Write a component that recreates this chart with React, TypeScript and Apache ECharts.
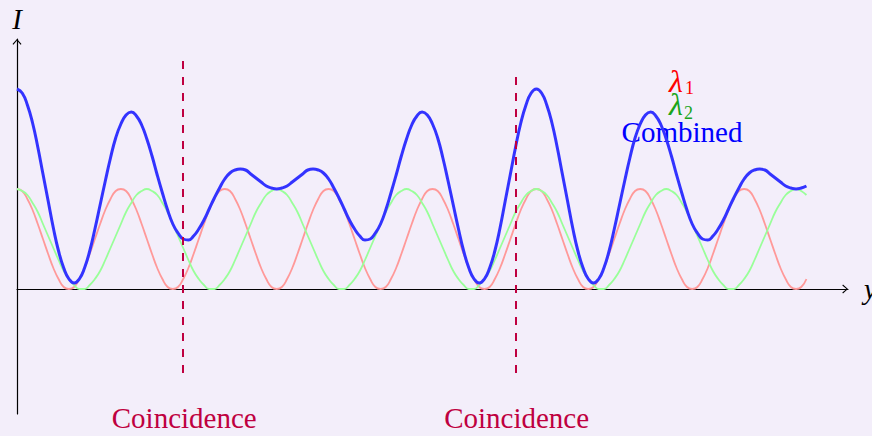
import React, { useEffect, useRef } from "react";
import * as echarts from "echarts";

// Sample spacing along the y axis for every intensity series
const X_STEP = 0.05;

// Intensity of wavelength λ1
const RED = [
  1.00, 0.98, 0.90, 0.79, 0.65, 0.50, 0.35, 0.21, 0.10, 0.02, 0.00, 0.02, 0.10, 0.21, 0.35, 0.50, 0.65, 0.79, 0.90, 0.98,
  1.00, 0.98, 0.90, 0.79, 0.65, 0.50, 0.35, 0.21, 0.10, 0.02, 0.00, 0.02, 0.10, 0.21, 0.35, 0.50, 0.65, 0.79, 0.90, 0.98,
  1.00, 0.98, 0.90, 0.79, 0.65, 0.50, 0.35, 0.21, 0.10, 0.02, 0.00, 0.02, 0.10, 0.21, 0.35, 0.50, 0.65, 0.79, 0.90, 0.98,
  1.00, 0.98, 0.90, 0.79, 0.65, 0.50, 0.35, 0.21, 0.10, 0.02, 0.00, 0.02, 0.10, 0.21, 0.35, 0.50, 0.65, 0.79, 0.90, 0.98,
  1.00, 0.98, 0.90, 0.79, 0.65, 0.50, 0.35, 0.21, 0.10, 0.02, 0.00, 0.02, 0.10, 0.21, 0.35, 0.50, 0.65, 0.79, 0.90, 0.98,
  1.00, 0.98, 0.90, 0.79, 0.65, 0.50, 0.35, 0.21, 0.10, 0.02, 0.00, 0.02, 0.10, 0.21, 0.35, 0.50, 0.65, 0.79, 0.90, 0.98,
  1.00, 0.98, 0.90, 0.79, 0.65, 0.50, 0.35, 0.21, 0.10, 0.02, 0.00, 0.02, 0.10, 0.21, 0.35, 0.50, 0.65, 0.79, 0.90, 0.98,
  1.00, 0.98, 0.90, 0.79, 0.65, 0.50, 0.35, 0.21, 0.10, 0.02, 0.00, 0.02, 0.10,
];

// Intensity of wavelength λ2
const GREEN = [
  1.00, 0.98, 0.94, 0.86, 0.77, 0.65, 0.53, 0.41, 0.29, 0.18, 0.10, 0.04, 0.00, 0.00, 0.04, 0.10, 0.18, 0.29, 0.41, 0.53, 0.65, 0.77, 0.86, 0.94, 0.98,
  1.00, 0.98, 0.94, 0.86, 0.77, 0.65, 0.53, 0.41, 0.29, 0.18, 0.10, 0.04, 0.00, 0.00, 0.04, 0.10, 0.18, 0.29, 0.41, 0.53, 0.65, 0.77, 0.86, 0.94, 0.98,
  1.00, 0.98, 0.94, 0.86, 0.77, 0.65, 0.53, 0.41, 0.29, 0.18, 0.10, 0.04, 0.00, 0.00, 0.04, 0.10, 0.18, 0.29, 0.41, 0.53, 0.65, 0.77, 0.86, 0.94, 0.98,
  1.00, 0.98, 0.94, 0.86, 0.77, 0.65, 0.53, 0.41, 0.29, 0.18, 0.10, 0.04, 0.00, 0.00, 0.04, 0.10, 0.18, 0.29, 0.41, 0.53, 0.65, 0.77, 0.86, 0.94, 0.98,
  1.00, 0.98, 0.94, 0.86, 0.77, 0.65, 0.53, 0.41, 0.29, 0.18, 0.10, 0.04, 0.00, 0.00, 0.04, 0.10, 0.18, 0.29, 0.41, 0.53, 0.65, 0.77, 0.86, 0.94, 0.98,
  1.00, 0.98, 0.94, 0.86, 0.77, 0.65, 0.53, 0.41, 0.29, 0.18, 0.10, 0.04, 0.00, 0.00, 0.04, 0.10, 0.18, 0.29, 0.41, 0.53, 0.65, 0.77, 0.86, 0.94, 0.98,
  1.00, 0.98, 0.94,
];

// Combined intensity of both wavelengths
const COMBINED = [
  2.00, 1.96, 1.84, 1.66, 1.42, 1.15, 0.88, 0.61, 0.38, 0.21, 0.10, 0.06, 0.10, 0.21, 0.38, 0.60, 0.84, 1.08, 1.31, 1.51, 1.65, 1.74, 1.77, 1.73, 1.64,
  1.50, 1.33, 1.14, 0.96, 0.79, 0.65, 0.56, 0.50, 0.49, 0.53, 0.60, 0.69, 0.80, 0.91, 1.01, 1.10, 1.16, 1.19, 1.20, 1.19, 1.15, 1.11, 1.07, 1.03, 1.01,
  1.00, 1.01, 1.03, 1.07, 1.11, 1.15, 1.19, 1.20, 1.19, 1.16, 1.10, 1.01, 0.91, 0.80, 0.69, 0.60, 0.53, 0.49, 0.50, 0.56, 0.65, 0.79, 0.96, 1.14, 1.33,
  1.50, 1.64, 1.73, 1.77, 1.74, 1.65, 1.51, 1.31, 1.08, 0.84, 0.60, 0.38, 0.21, 0.10, 0.06, 0.10, 0.21, 0.38, 0.61, 0.88, 1.15, 1.42, 1.66, 1.84, 1.96,
  2.00, 1.96, 1.84, 1.66, 1.42, 1.15, 0.88, 0.61, 0.38, 0.21, 0.10, 0.06, 0.10, 0.21, 0.38, 0.60, 0.84, 1.08, 1.31, 1.51, 1.65, 1.74, 1.77, 1.73, 1.64,
  1.50, 1.33, 1.14, 0.96, 0.79, 0.65, 0.56, 0.50, 0.49, 0.53, 0.60, 0.69, 0.80, 0.91, 1.01, 1.10, 1.16, 1.19, 1.20, 1.19, 1.15, 1.11, 1.07, 1.03, 1.01,
  1.00, 1.01, 1.03,
];

// Coincidence markers: position and vertical extent of each dashed line
const DASH_X = [1.6, 4.8];
const DASH_BOTTOM = [-0.84, -0.84];
const DASH_TOP = [2.29, 2.14];
const DASH_LABEL = "Coincidence";
const DASH_LABEL_Y = -1.29;

const AXIS_X_NAME = "y";
const AXIS_Y_NAME = "I";

const BG = "#f3eefa";
const SERIF = '"Liberation Serif", "DejaVu Serif", serif';
const PURPLE = "#bf0040";

// Open TikZ-style arrow tip, pointing up in its own frame
const ARROW = "path://M4.5,0 L9,5 L8.1,5.7 L4.5,1.5 L0.9,5.7 L0,5 Z";

const toPoints = (values: number[]) => values.map((v, i) => [i * X_STEP, v]);

const axisCommon = {
  type: "value" as const,
  axisLine: {
    show: true,
    onZero: true,
    symbol: ["none", ARROW],
    symbolSize: [9, 5.7],
    symbolOffset: [0, -2.85],
    lineStyle: { color: "#000", width: 1.2 },
  },
  axisTick: { show: false },
  axisLabel: { show: false },
  splitLine: { show: false },
  nameLocation: "end" as const,
  nameTextStyle: {
    fontFamily: SERIF,
    fontStyle: "italic",
    fontSize: 29,
    color: "#000",
  },
};

export default function App() {
  const ref = useRef<HTMLDivElement>(null);

  useEffect(() => {
    if (!ref.current) return;
    const chart = echarts.init(ref.current, null, { renderer: "svg" });

    chart.setOption({
      animation: false,
      backgroundColor: BG,
      grid: {
        left: 17,
        right: 24,
        top: 39,
        bottom: 22,
        containLabel: false,
        outerBoundsMode: "none",
      },
      xAxis: { ...axisCommon, min: 0, max: 8, name: AXIS_X_NAME, nameGap: 16 },
      yAxis: { ...axisCommon, min: -1.25, max: 2.5, name: AXIS_Y_NAME, nameGap: 6 },
      series: [
        {
          name: "λ1",
          type: "line",
          data: toPoints(RED),
          showSymbol: false,
          smooth: true,
          lineStyle: { color: "#ff9999", width: 1.8 },
          itemStyle: { color: "#ff9999" },
          z: 2,
        },
        {
          name: "λ2",
          type: "line",
          data: toPoints(GREEN),
          showSymbol: false,
          smooth: true,
          lineStyle: { color: "#99ff99", width: 1.8 },
          itemStyle: { color: "#99ff99" },
          z: 3,
        },
        {
          name: "Combined",
          type: "line",
          data: toPoints(COMBINED),
          showSymbol: false,
          smooth: true,
          lineStyle: { color: "#3333ff", width: 3 },
          itemStyle: { color: "#3333ff" },
          z: 4,
        },
        {
          name: "coincidence",
          type: "line",
          data: [],
          z: 5,
          markLine: {
            silent: true,
            symbol: ["none", "none"],
            label: { show: false },
            lineStyle: { color: PURPLE, width: 2, type: [8, 8] },
            data: DASH_X.map((x, i) => [
              { coord: [x, DASH_BOTTOM[i]] },
              { coord: [x, DASH_TOP[i]] },
            ]),
          },
        },
      ],
    });

    const labels = DASH_X.map((x) => {
      const [px, py] = chart.convertToPixel({ gridIndex: 0 }, [x, DASH_LABEL_Y]) as number[];
      return {
        type: "text",
        x: px + 1,
        y: py,
        style: {
          text: DASH_LABEL,
          fill: PURPLE,
          fontFamily: SERIF,
          fontSize: 29,
          align: "center",
          verticalAlign: "middle",
        },
      };
    });

    const legendText = (text: string, x: number, y: number, color: string, size: number, italic: boolean, align = "center") => ({
      type: "text",
      x,
      y,
      style: {
        text,
        fill: color,
        fontFamily: SERIF,
        fontSize: size,
        fontStyle: italic ? "italic" : "normal",
        align,
        verticalAlign: "middle",
      },
    });

    chart.setOption({
      graphic: [
        ...labels,
        legendText("λ", 676, 81, "#ff0000", 32, true),
        legendText("1", 685, 88, "#ff0000", 18, false, "left"),
        legendText("λ", 676, 104, "#1aa51a", 32, true),
        legendText("2", 684, 113, "#1aa51a", 18, false, "left"),
        legendText("Combined", 682, 132, "#0000ff", 29, false),
      ],
    });

    return () => chart.dispose();
  }, []);

  return (
    <div
      ref={ref}
      style={{ position: "fixed", left: 0, top: 0, width: 872, height: 436, background: BG }}
    />
  );
}
